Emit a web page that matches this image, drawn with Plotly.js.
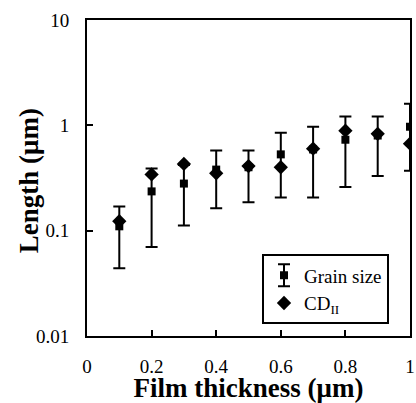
<!DOCTYPE html>
<html>
<head>
<meta charset="utf-8">
<script src="https://cdn.plot.ly/plotly-3.0.1.min.js"></script>
<style>html,body{margin:0;padding:0;background:#fff;}#chart{width:416px;height:403px;}</style>
</head>
<body>
<div id="chart"></div>
<script>
// Data
const thickness = [0.1, 0.2, 0.3, 0.4, 0.5, 0.6, 0.7, 0.8, 0.9, 1.0];
const grainSize = [0.11, 0.236, 0.28, 0.38, 0.40, 0.53, 0.59, 0.73, 0.80, 0.97];
const grainHigh = [0.17, 0.39, 0.42, 0.577, 0.577, 0.85, 0.97, 1.21, 1.21, 1.6];
const grainLow  = [0.044, 0.07, 0.112, 0.163, 0.186, 0.207, 0.207, 0.26, 0.33, 0.37];
const cdII      = [0.123, 0.342, 0.43, 0.35, 0.41, 0.40, 0.60, 0.89, 0.83, 0.67];
const xTicks = [0, 0.2, 0.4, 0.6, 0.8, 1];
const xTickText = ['0', '0.2', '0.4', '0.6', '0.8', '1'];
const yTicks = [0.01, 0.1, 1, 10];
const yTickText = ['0.01', '0.1', '1', '10'];

const serif = '"Liberation Serif", "Times New Roman", serif';

const traces = [
  {
    x: thickness, y: grainSize, type: 'scatter', mode: 'markers', name: 'Grain size',
    marker: {symbol: 'square', size: 8, color: '#000'},
    error_y: {
      type: 'data', symmetric: false,
      array: grainHigh.map((h, i) => h - grainSize[i]),
      arrayminus: grainLow.map((l, i) => grainSize[i] - l),
      color: '#000', thickness: 2, width: 6
    }
  },
  {
    x: thickness, y: cdII, type: 'scatter', mode: 'markers', name: 'CD<sub>II</sub>',
    marker: {symbol: 'diamond', size: 11, color: '#000'}
  }
];

const layout = {
  width: 416, height: 403,
  margin: {l: 87, r: 6, t: 20, b: 67},
  paper_bgcolor: '#fff', plot_bgcolor: '#fff',
  font: {family: serif, color: '#000', size: 19},
  showlegend: true,
  legend: {
    x: 0.935, y: 0.258, xanchor: 'right', yanchor: 'top',
    bordercolor: '#000', borderwidth: 2, bgcolor: '#fff',
    itemwidth: 30,
    font: {family: serif, size: 19, color: '#000'}
  },
  xaxis: {
    range: [0, 1], tickvals: xTicks, ticktext: xTickText,
    ticks: 'inside', ticklen: 6, tickwidth: 2, tickcolor: '#000',
    showline: true, linewidth: 2, linecolor: '#000', mirror: true,
    showgrid: false, zeroline: false,
    tickfont: {family: serif, size: 19},
    ticklabelstandoff: 12,
    title: {text: 'Film thickness (μm)', font: {family: serif, size: 27, weight: 'bold'}, standoff: 2}
  },
  yaxis: {
    type: 'log', range: [-2, 1], tickvals: yTicks, ticktext: yTickText,
    ticks: 'inside', ticklen: 6, tickwidth: 2, tickcolor: '#000',
    showline: true, linewidth: 2, linecolor: '#000', mirror: true,
    showgrid: false, zeroline: false,
    tickfont: {family: serif, size: 19},
    ticklabelstandoff: 12
  },
  annotations: [{
    text: '<b>Length (μm)</b>', xref: 'paper', yref: 'paper', x: 0, y: 0.49,
    xanchor: 'center', yanchor: 'middle', xshift: -58, textangle: -90, showarrow: false,
    font: {family: serif, size: 27, color: '#000'}
  }]
};

Plotly.newPlot('chart', traces, layout, {displayModeBar: false, staticPlot: true}).then(function (gd) {
  // add an error-bar glyph to the "Grain size" legend symbol, as in the reference
  const pts = gd.querySelectorAll('.legend .traces .legendpoints');
  if (pts.length) {
    const ns = 'http://www.w3.org/2000/svg';
    const p = document.createElementNS(ns, 'path');
    p.setAttribute('d', 'M0,-11V11M-6,-11H6M-6,11H6');
    p.setAttribute('transform', 'translate(20,0)');
    p.setAttribute('style', 'stroke:#000;stroke-width:2;fill:none');
    pts[0].insertBefore(p, pts[0].firstChild);
  }
});
</script>
</body>
</html>
